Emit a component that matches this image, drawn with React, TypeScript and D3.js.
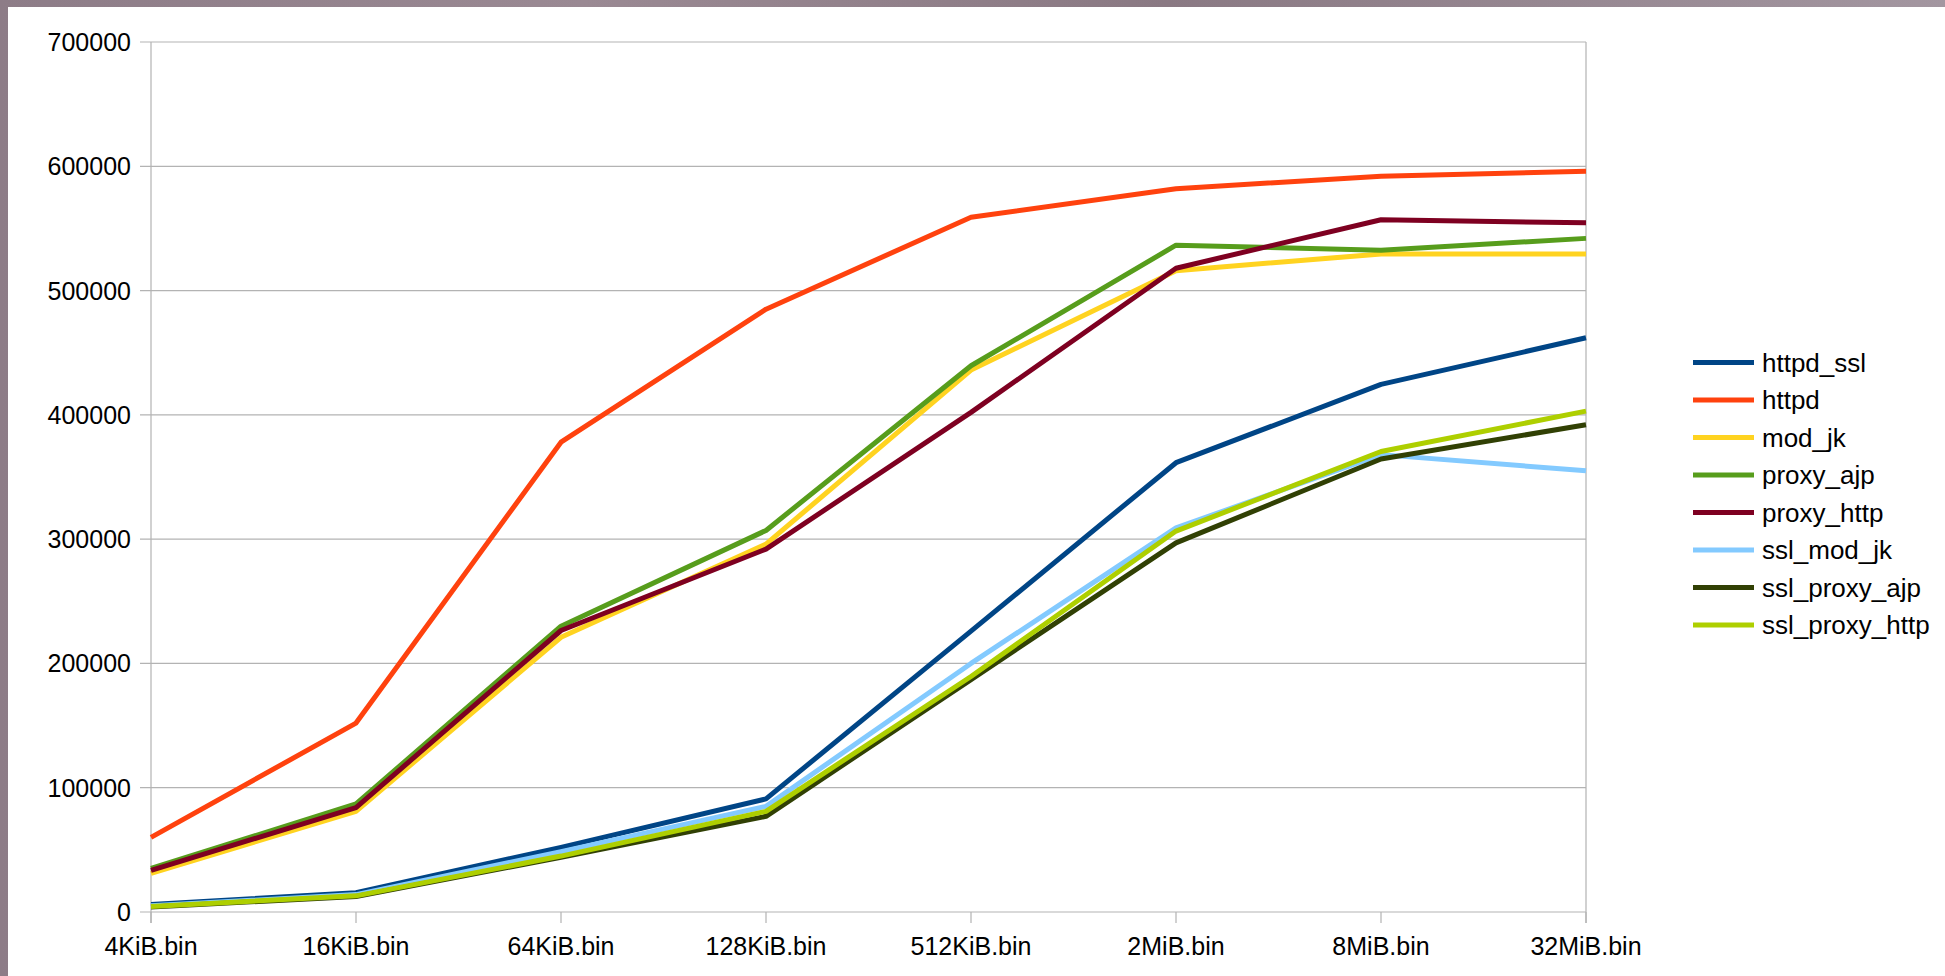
import React from "react";
import * as d3 from "d3";

// File sizes along the x axis
const categories = ["4KiB.bin", "16KiB.bin", "64KiB.bin", "128KiB.bin", "512KiB.bin", "2MiB.bin", "8MiB.bin", "32MiB.bin"];

// Throughput per configuration
const httpd_ssl = [6000, 15500, 52000, 91000, 226000, 361500, 424500, 462000];
const httpd = [60000, 152000, 378000, 485000, 559000, 582000, 592000, 596000];
const mod_jk = [31000, 81000, 221000, 296000, 436000, 516000, 529500, 529500];
const proxy_ajp = [35000, 87000, 230000, 307000, 439500, 536500, 532500, 542000];
const proxy_http = [33500, 84000, 226500, 292000, 402000, 518000, 557000, 554500];
const ssl_mod_jk = [5000, 14000, 48500, 85000, 200000, 309000, 368000, 355000];
const ssl_proxy_ajp = [4000, 12500, 44000, 77000, 187000, 297000, 364500, 392000];
const ssl_proxy_http = [4500, 13000, 45000, 81000, 189500, 306500, 370500, 403000];

const seriesNames = ["httpd_ssl", "httpd", "mod_jk", "proxy_ajp", "proxy_http", "ssl_mod_jk", "ssl_proxy_ajp", "ssl_proxy_http"];
const seriesValues = [httpd_ssl, httpd, mod_jk, proxy_ajp, proxy_http, ssl_mod_jk, ssl_proxy_ajp, ssl_proxy_http];
const seriesColors = ["#004586", "#ff420e", "#ffd320", "#579d1c", "#7e0021", "#83caff", "#314004", "#aecf00"];

const yTicks = [0, 100000, 200000, 300000, 400000, 500000, 600000, 700000];

const W = 1945;
const H = 976;
const plot = { left: 151, right: 1586, top: 42, bottom: 912 };
const FONT = "'Liberation Sans', Arial, sans-serif";
const GRID = "#b3b3b3";

export default function App() {
  const x = d3
    .scalePoint<string>()
    .domain(categories)
    .range([plot.left, plot.right]);
  const y = d3.scaleLinear().domain([0, 700000]).range([plot.bottom, plot.top]);

  const line = d3
    .line<number>()
    .x((_, i) => x(categories[i]) as number)
    .y((d) => y(d));

  const legendX = 1693;
  const legendY0 = 362.5;
  const legendStep = 37.5;

  return (
    <svg
      width={W}
      height={H}
      style={{ position: "absolute", left: 0, top: 0, display: "block" }}
      fontFamily={FONT}
    >
      <defs>
        <linearGradient id="frame" x1="0" y1="0" x2="1" y2="0">
          <stop offset="0" stopColor="#8d7c87" />
          <stop offset="0.3" stopColor="#9a8993" />
          <stop offset="0.6" stopColor="#8a7983" />
          <stop offset="1" stopColor="#a396a0" />
        </linearGradient>
      </defs>
      <rect x={0} y={0} width={W} height={H} fill="url(#frame)" />
      <rect x={8} y={7} width={W - 8} height={H - 7} fill="#ffffff" />

      {/* horizontal gridlines with y tick marks */}
      {yTicks.map((t) => (
        <g key={t}>
          <line x1={plot.left - 11} x2={plot.right} y1={y(t)} y2={y(t)} stroke={GRID} strokeWidth={1.2} />
          <text
            x={plot.left - 20}
            y={y(t)}
            textAnchor="end"
            dominantBaseline="central"
            fontSize={25}
            fill="#000"
          >
            {t}
          </text>
        </g>
      ))}

      {/* plot frame: left axis and right edge */}
      <line x1={plot.left} x2={plot.left} y1={plot.top} y2={plot.bottom + 11} stroke={GRID} strokeWidth={1.2} />
      <line x1={plot.right} x2={plot.right} y1={plot.top} y2={plot.bottom + 11} stroke={GRID} strokeWidth={1.2} />

      {/* category ticks and labels */}
      {categories.map((c) => (
        <g key={c}>
          <line
            x1={x(c) as number}
            x2={x(c) as number}
            y1={plot.bottom}
            y2={plot.bottom + 11}
            stroke={GRID}
            strokeWidth={1.2}
          />
          <text x={x(c) as number} y={955} textAnchor="middle" fontSize={25} fill="#000">
            {c}
          </text>
        </g>
      ))}

      {/* series */}
      {seriesValues.map((vals, i) => (
        <path
          key={seriesNames[i]}
          d={line(vals) as string}
          fill="none"
          stroke={seriesColors[i]}
          strokeWidth={5}
          strokeLinejoin="round"
        />
      ))}

      {/* legend */}
      {seriesNames.map((name, i) => (
        <g key={name}>
          <line
            x1={legendX}
            x2={legendX + 61}
            y1={legendY0 + i * legendStep}
            y2={legendY0 + i * legendStep}
            stroke={seriesColors[i]}
            strokeWidth={5}
          />
          <text
            x={legendX + 69}
            y={legendY0 + i * legendStep}
            dominantBaseline="central"
            fontSize={26}
            fill="#000"
          >
            {name}
          </text>
        </g>
      ))}
    </svg>
  );
}
